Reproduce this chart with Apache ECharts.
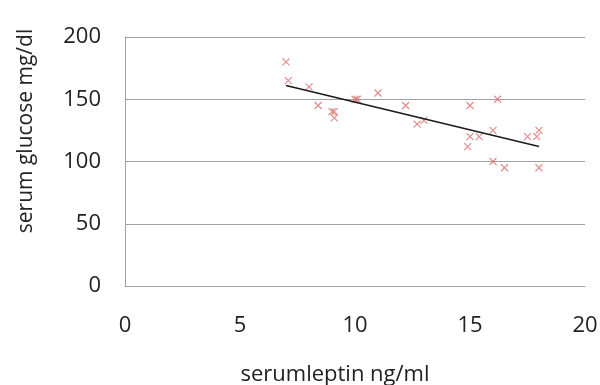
<!DOCTYPE html>
<html><head><meta charset="utf-8">
<script src="https://cdn.jsdelivr.net/npm/echarts@6/dist/echarts.min.js"></script>
<style>html,body{margin:0;padding:0;background:#fff}#c{width:600px;height:385px}</style>
</head><body><div id="c"></div>
<script>
var leptin = [7.0, 7.1, 8.0, 8.4, 9.0, 9.1, 9.1, 10.0, 10.1, 11.0, 12.2, 12.7, 13.0, 15.0, 16.2, 15.0, 15.4, 16.0, 14.9, 17.5, 17.9, 18.0, 16.0, 16.5, 18.0];
var glucose = [180, 165, 160, 145, 140, 140, 135, 150, 150, 155, 145, 130, 133, 145, 150, 120, 120, 125, 112, 120, 120, 125, 100, 95, 95];
var trendX = [7.0, 18.0];
var trendY = [161, 112];
var xTicks = [0, 5, 10, 15, 20];
var yTicks = [0, 50, 100, 150, 200];

var pts = leptin.map(function(x, i){ return [x, glucose[i]]; });
var trend = trendX.map(function(x, i){ return [x, trendY[i]]; });
var font = "'Open Sans', 'DejaVu Sans', sans-serif";
var chart = echarts.init(document.getElementById('c'), null, {renderer: 'canvas'});
chart.setOption({
  animation: false,
  grid: {left: 125, right: 15, top: 37, bottom: 99, containLabel: false, outerBoundsMode: 'none'},
  xAxis: {
    type: 'value', min: xTicks[0], max: xTicks[xTicks.length-1], interval: 5,
    name: 'serumleptin ng/ml', nameLocation: 'middle', nameGap: 78,
    nameTextStyle: {fontFamily: font, fontSize: 22, color: '#222', padding: [0, 40, 0, 0]},
    axisLine: {show: true, lineStyle: {color: '#a0a0a0', width: 1}},
    axisTick: {show: false},
    splitLine: {show: false},
    axisLabel: {fontFamily: font, fontSize: 22, color: '#222', margin: 29}
  },
  yAxis: {
    type: 'value', min: yTicks[0], max: yTicks[yTicks.length-1], interval: 50,
    name: 'serum glucose mg/dl', nameLocation: 'middle', nameGap: 88, nameRotate: 90,
    nameTextStyle: {fontFamily: font, fontSize: 21, color: '#222', padding: [0, 0, 0, 61]},
    axisLine: {show: true, lineStyle: {color: '#a0a0a0', width: 1}},
    axisTick: {show: false},
    splitLine: {show: true, lineStyle: {color: '#a0a0a0', width: 1}},
    axisLabel: {fontFamily: font, fontSize: 22, color: '#222', margin: 24}
  },
  series: [
    {
      type: 'scatter', data: pts,
      symbol: 'path://M0,0 L10,10 M10,0 L0,10',
      symbolSize: 7,
      itemStyle: {color: 'none', borderColor: '#d9706e', borderWidth: 1.2},
      z: 3
    },
    {
      type: 'line', data: trend, showSymbol: false, symbol: 'none',
      lineStyle: {color: '#1a1a1a', width: 1.5}, z: 4
    }
  ]
});
</script></body></html>
